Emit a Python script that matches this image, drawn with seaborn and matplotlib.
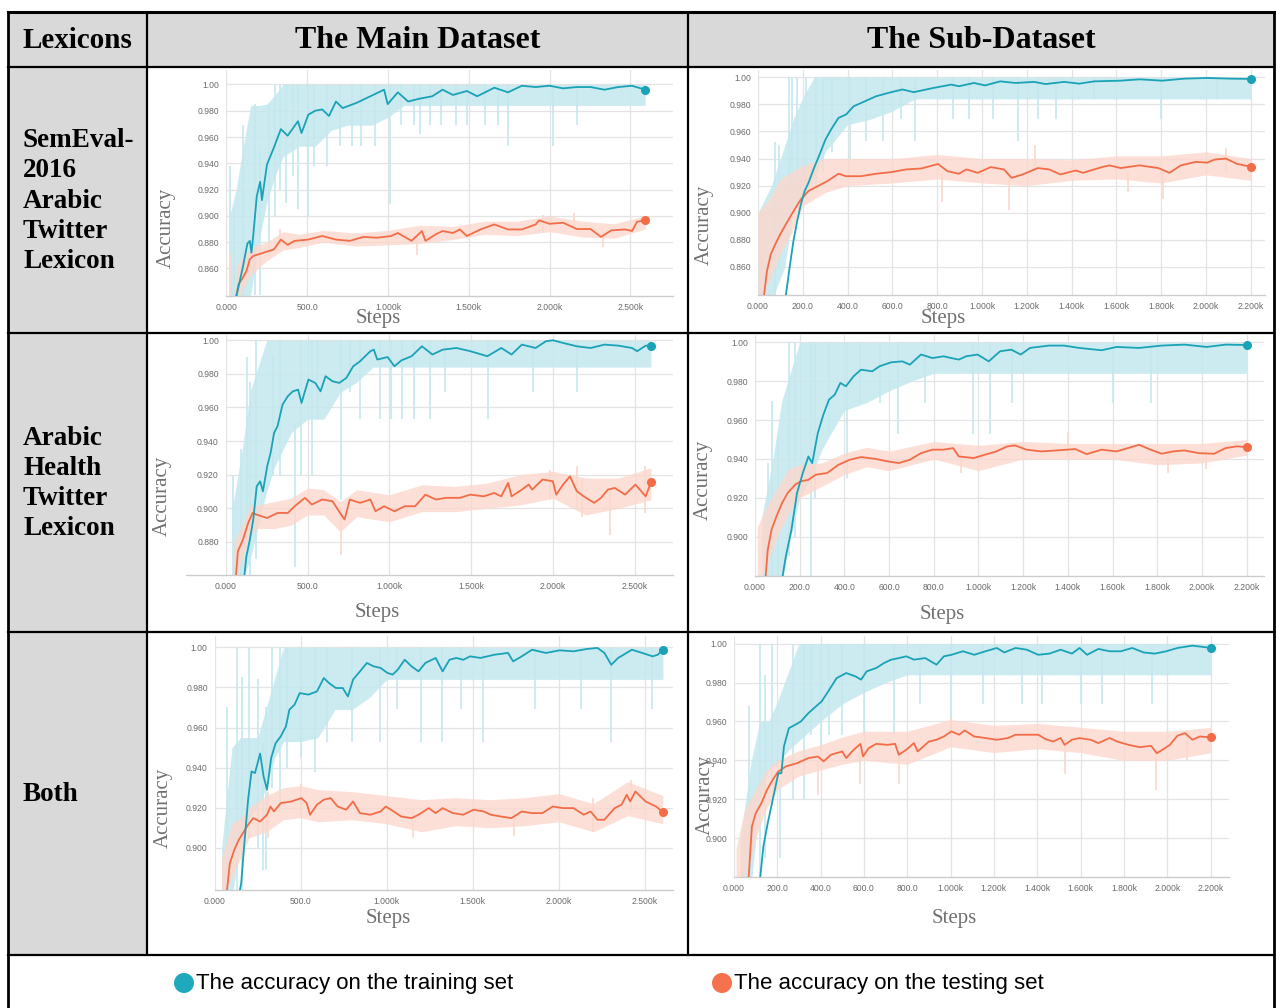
import matplotlib
matplotlib.use("Agg")
import matplotlib.pyplot as plt
import matplotlib.font_manager as fm
from matplotlib.patches import Rectangle, Circle
import seaborn as sns
import pandas as pd

# ---------------------------------------------------------------- texts
col_headers = ["Lexicons", "The Main Dataset", "The Sub-Dataset"]
row_labels = ["SemEval-\n2016\nArabic\nTwitter\nLexicon",
              "Arabic\nHealth\nTwitter\nLexicon",
              "Both"]
legend_labels = ["The accuracy on the training set", "The accuracy on the testing set"]
x_label = "Steps"
y_label = "Accuracy"

# ================================================================ DATA
# ---------- SemEval lexicon / main dataset
sem_main_train_steps = [55, 100, 130, 145, 155, 166, 188, 209, 220, 251, 294, 337, 379, 443, 465, 507, 550, 593, 635, 678, 720, 806, 891, 976, 998, 1061, 1125, 1189, 1274, 1338, 1402, 1488, 1552, 1658, 1743, 1829, 1914, 2000, 2084, 2169, 2254, 2340, 2425, 2510, 2592]
sem_main_train_acc = [0.835, 0.860, 0.879, 0.881, 0.872, 0.885, 0.915, 0.926, 0.912, 0.939, 0.952, 0.966, 0.961, 0.972, 0.963, 0.977, 0.980, 0.981, 0.976, 0.987, 0.982, 0.986, 0.991, 0.996, 0.985, 0.994, 0.987, 0.989, 0.991, 0.996, 0.992, 0.995, 0.991, 0.9975, 0.994, 0.999, 0.998, 0.999, 0.997, 0.998, 0.998, 0.996, 0.998, 0.999, 0.996]
sem_main_test_steps = [55, 75, 102, 124, 145, 166, 230, 294, 337, 379, 422, 507, 593, 678, 763, 848, 933, 1019, 1061, 1146, 1210, 1232, 1296, 1338, 1402, 1445, 1488, 1573, 1658, 1743, 1829, 1914, 1935, 2000, 2084, 2169, 2254, 2318, 2382, 2468, 2510, 2542, 2592]
sem_main_test_acc = [0.835, 0.848, 0.853, 0.858, 0.867, 0.8695, 0.872, 0.8745, 0.882, 0.878, 0.881, 0.882, 0.8847, 0.882, 0.881, 0.884, 0.8834, 0.8847, 0.887, 0.881, 0.8885, 0.881, 0.886, 0.8885, 0.887, 0.8897, 0.8847, 0.8897, 0.8935, 0.8897, 0.8897, 0.8935, 0.8966, 0.894, 0.8948, 0.890, 0.890, 0.884, 0.889, 0.8897, 0.8885, 0.8956, 0.8966]
sem_main_trainraw_steps = [20, 60, 100, 150, 200, 250, 300, 350, 450, 550, 650, 750, 900, 1000, 1100, 1300, 1500, 1700, 1800, 2000, 2200, 2400, 2592]
sem_main_trainraw_lo = [0.835, 0.835, 0.835, 0.84, 0.88, 0.91, 0.93, 0.945, 0.953, 0.953, 0.965, 0.969, 0.969, 0.975, 0.984, 0.984, 0.984, 0.984, 0.984, 0.984, 0.984, 0.984, 0.984]
sem_main_trainraw_hi = [0.90, 0.92, 0.95, 0.984, 0.984, 0.985, 0.992, 1.0, 1.0, 1.0, 1.0, 1.0, 1.0, 1.0, 1.0, 1.0, 1.0, 1.0, 1.0, 1.0, 1.0, 1.0, 1.0]
sem_main_trainspike_steps = [20, 45, 105, 180, 210, 265, 300, 330, 370, 410, 445, 505, 540, 620, 700, 780, 830, 920, 1010, 1080, 1160, 1200, 1260, 1330, 1420, 1490, 1600, 1680, 1740, 2020, 2170]
sem_main_trainspike_lo = [0.835, 0.835, 0.84, 0.84, 0.84, 0.87, 0.90, 0.92, 0.91, 0.93, 0.905, 0.90, 0.938, 0.938, 0.953, 0.953, 0.953, 0.953, 0.909, 0.969, 0.969, 0.962, 0.969, 0.969, 0.969, 0.969, 0.969, 0.969, 0.953, 0.953, 0.969]
sem_main_trainspike_hi = [0.938, 0.905, 0.969, 0.985, 0.95, 0.985, 1.0, 1.0, 1.0, 1.0, 1.0, 1.0, 1.0, 1.0, 1.0, 1.0, 1.0, 1.0, 1.0, 1.0, 1.0, 1.0, 1.0, 1.0, 1.0, 1.0, 1.0, 1.0, 1.0, 1.0, 1.0]
sem_main_testraw_steps = [60, 150, 250, 350, 450, 600, 800, 1000, 1200, 1400, 1600, 1800, 2000, 2200, 2400, 2592]
sem_main_testraw_lo = [0.835, 0.855, 0.866, 0.874, 0.876, 0.880, 0.877, 0.878, 0.879, 0.882, 0.886, 0.885, 0.888, 0.884, 0.883, 0.890]
sem_main_testraw_hi = [0.862, 0.876, 0.880, 0.888, 0.886, 0.889, 0.887, 0.889, 0.893, 0.892, 0.896, 0.896, 0.900, 0.896, 0.894, 0.900]
sem_main_testspike_steps = [30, 330, 1180, 1960, 2150, 2330]
sem_main_testspike_lo = [0.835, 0.878, 0.870, 0.888, 0.890, 0.876]
sem_main_testspike_hi = [0.872, 0.890, 0.885, 0.901, 0.902, 0.888]

# ---------- SemEval lexicon / sub-dataset
sem_sub_train_steps = [121, 141, 158, 175, 191, 208, 225, 250, 275, 301, 326, 359, 393, 427, 477, 527, 594, 645, 695, 779, 863, 897, 964, 1014, 1081, 1149, 1233, 1283, 1367, 1434, 1501, 1619, 1703, 1804, 1904, 2005, 2106, 2200]
sem_sub_train_acc = [0.835, 0.8595, 0.879, 0.894, 0.906, 0.916, 0.922, 0.933, 0.943, 0.954, 0.9614, 0.970, 0.9725, 0.9786, 0.9823, 0.986, 0.989, 0.991, 0.989, 0.992, 0.9946, 0.9934, 0.9958, 0.994, 0.997, 0.9958, 0.9966, 0.995, 0.9966, 0.9953, 0.997, 0.9975, 0.9985, 0.9975, 0.999, 0.9995, 0.999, 0.9988]
sem_sub_test_steps = [24, 40, 57, 77, 99, 124, 158, 191, 225, 259, 309, 359, 393, 460, 527, 594, 662, 729, 804, 846, 897, 930, 981, 1039, 1098, 1132, 1182, 1249, 1300, 1350, 1418, 1451, 1535, 1569, 1619, 1703, 1787, 1837, 1888, 1955, 2005, 2039, 2089, 2140, 2200]
sem_sub_test_acc = [0.835, 0.857, 0.8693, 0.8767, 0.884, 0.8914, 0.901, 0.9098, 0.916, 0.919, 0.9233, 0.9288, 0.927, 0.927, 0.9288, 0.930, 0.932, 0.9327, 0.936, 0.9307, 0.9288, 0.932, 0.9295, 0.9337, 0.932, 0.9258, 0.9283, 0.933, 0.932, 0.9283, 0.9312, 0.9295, 0.9337, 0.935, 0.933, 0.935, 0.933, 0.9295, 0.935, 0.9376, 0.937, 0.9393, 0.940, 0.936, 0.934]
sem_sub_trainraw_steps = [0, 60, 120, 160, 200, 250, 300, 350, 400, 500, 600, 700, 800, 1000, 1200, 1400, 1600, 1800, 2000, 2200]
sem_sub_trainraw_lo = [0.835, 0.835, 0.86, 0.905, 0.91, 0.925, 0.945, 0.955, 0.965, 0.969, 0.975, 0.984, 0.984, 0.984, 0.984, 0.984, 0.984, 0.984, 0.984, 0.984]
sem_sub_trainraw_hi = [0.90, 0.92, 0.95, 0.97, 0.985, 1.0, 1.0, 1.0, 1.0, 1.0, 1.0, 1.0, 1.0, 1.0, 1.0, 1.0, 1.0, 1.0, 1.0, 1.0]
sem_sub_trainspike_steps = [75, 95, 140, 150, 175, 215, 260, 290, 330, 410, 480, 560, 640, 700, 870, 940, 1050, 1160, 1250, 1330, 1500, 1800, 2050]
sem_sub_trainspike_lo = [0.835, 0.86, 0.90, 0.91, 0.905, 0.91, 0.92, 0.93, 0.945, 0.94, 0.953, 0.953, 0.969, 0.953, 0.969, 0.969, 0.969, 0.953, 0.969, 0.969, 0.984, 0.969, 0.984]
sem_sub_trainspike_hi = [0.952, 0.95, 1.0, 1.0, 1.0, 1.0, 1.0, 1.0, 1.0, 1.0, 1.0, 1.0, 1.0, 1.0, 1.0, 1.0, 1.0, 1.0, 1.0, 1.0, 1.0, 1.0, 1.0]
sem_sub_testraw_steps = [0, 50, 100, 150, 200, 300, 400, 600, 800, 1000, 1200, 1400, 1600, 1800, 2000, 2200]
sem_sub_testraw_lo = [0.835, 0.85, 0.87, 0.885, 0.905, 0.915, 0.92, 0.922, 0.925, 0.922, 0.92, 0.924, 0.925, 0.922, 0.928, 0.924]
sem_sub_testraw_hi = [0.90, 0.91, 0.925, 0.93, 0.935, 0.940, 0.940, 0.940, 0.943, 0.940, 0.940, 0.939, 0.942, 0.942, 0.945, 0.940]
sem_sub_testspike_steps = [20, 820, 1120, 1235, 1650, 1810, 2090]
sem_sub_testspike_lo = [0.86, 0.908, 0.902, 0.93, 0.915, 0.91, 0.93]
sem_sub_testspike_hi = [0.90, 0.93, 0.93, 0.95, 0.93, 0.93, 0.948]

# ---------- Health lexicon / main dataset
health_main_train_steps = [109, 126, 147, 168, 189, 210, 227, 253, 274, 295, 316, 347, 379, 410, 442, 463, 505, 547, 579, 610, 652, 694, 737, 779, 821, 884, 905, 926, 989, 1031, 1073, 1136, 1199, 1263, 1326, 1410, 1494, 1599, 1684, 1747, 1810, 1894, 1957, 1999, 2062, 2146, 2231, 2315, 2399, 2483, 2515, 2567, 2599]
health_main_train_acc = [0.856, 0.8714, 0.8813, 0.8933, 0.9131, 0.916, 0.9101, 0.925, 0.933, 0.9448, 0.9488, 0.9617, 0.9667, 0.9696, 0.9706, 0.9627, 0.9766, 0.9746, 0.9696, 0.9786, 0.9756, 0.9746, 0.9776, 0.9845, 0.9875, 0.9935, 0.9944, 0.9885, 0.990, 0.9845, 0.988, 0.9905, 0.9964, 0.9915, 0.9944, 0.9954, 0.9935, 0.9905, 0.9954, 0.9915, 0.9974, 0.9954, 0.9994, 1.000, 0.9984, 0.9964, 0.9954, 0.9974, 0.9968, 0.9954, 0.9935, 0.9968, 0.9968]
health_main_test_steps = [59, 74, 105, 137, 164, 189, 253, 316, 379, 421, 484, 526, 589, 652, 705, 726, 758, 821, 884, 915, 968, 1031, 1094, 1157, 1220, 1284, 1347, 1431, 1494, 1578, 1641, 1684, 1726, 1747, 1810, 1852, 1873, 1936, 1999, 2020, 2062, 2104, 2146, 2188, 2252, 2294, 2336, 2378, 2441, 2504, 2567, 2599]
health_main_test_acc = [0.856, 0.8744, 0.8813, 0.8913, 0.8972, 0.8962, 0.8942, 0.8972, 0.8972, 0.9012, 0.9062, 0.9022, 0.9052, 0.9042, 0.8962, 0.8933, 0.9052, 0.9032, 0.9052, 0.8982, 0.9012, 0.8982, 0.9012, 0.9012, 0.9081, 0.9052, 0.9062, 0.9062, 0.9081, 0.9071, 0.9091, 0.9071, 0.9151, 0.9071, 0.9111, 0.9141, 0.9111, 0.9171, 0.9161, 0.9081, 0.9141, 0.919, 0.9101, 0.9071, 0.9032, 0.9062, 0.9111, 0.9121, 0.9081, 0.9141, 0.9071, 0.9155]
health_main_trainraw_steps = [40, 100, 150, 200, 250, 300, 350, 400, 500, 600, 700, 800, 900, 1000, 1200, 1400, 1600, 1800, 2000, 2200, 2400, 2599]
health_main_trainraw_lo = [0.856, 0.856, 0.870, 0.89, 0.91, 0.925, 0.935, 0.945, 0.953, 0.953, 0.969, 0.975, 0.984, 0.984, 0.984, 0.984, 0.984, 0.984, 0.984, 0.984, 0.984, 0.984]
health_main_trainraw_hi = [0.90, 0.935, 0.97, 0.985, 1.0, 1.0, 1.0, 1.0, 1.0, 1.0, 1.0, 1.0, 1.0, 1.0, 1.0, 1.0, 1.0, 1.0, 1.0, 1.0, 1.0, 1.0]
health_main_trainspike_steps = [45, 95, 130, 150, 185, 290, 330, 420, 460, 525, 560, 705, 760, 820, 940, 1010, 1080, 1150, 1250, 1340, 1600, 1880, 2150]
health_main_trainspike_lo = [0.856, 0.856, 0.88, 0.856, 0.87, 0.92, 0.92, 0.865, 0.92, 0.92, 0.953, 0.905, 0.969, 0.953, 0.953, 0.953, 0.953, 0.953, 0.953, 0.969, 0.953, 0.969, 0.969]
health_main_trainspike_hi = [0.92, 0.935, 0.99, 0.975, 1.0, 0.99, 1.0, 0.95, 1.0, 1.0, 1.0, 1.0, 1.0, 1.0, 1.0, 1.0, 1.0, 1.0, 1.0, 1.0, 1.0, 1.0, 1.0]
health_main_testraw_steps = [50, 100, 150, 200, 300, 400, 500, 600, 700, 800, 1000, 1200, 1400, 1600, 1800, 2000, 2200, 2400, 2599]
health_main_testraw_lo = [0.856, 0.870, 0.885, 0.888, 0.888, 0.890, 0.896, 0.896, 0.886, 0.895, 0.892, 0.898, 0.898, 0.900, 0.902, 0.906, 0.896, 0.900, 0.905]
health_main_testraw_hi = [0.880, 0.890, 0.902, 0.902, 0.904, 0.906, 0.912, 0.911, 0.904, 0.911, 0.908, 0.914, 0.913, 0.915, 0.920, 0.922, 0.918, 0.918, 0.924]
health_main_testspike_steps = [705, 1980, 2150, 2180, 2350, 2560]
health_main_testspike_lo = [0.872, 0.905, 0.900, 0.895, 0.884, 0.897]
health_main_testspike_hi = [0.900, 0.923, 0.925, 0.918, 0.910, 0.925]

# ---------- Health lexicon / sub-dataset
health_sub_train_steps = [118, 138, 163, 188, 214, 239, 256, 281, 306, 331, 357, 382, 407, 441, 474, 525, 558, 609, 659, 693, 743, 794, 844, 878, 912, 945, 996, 1046, 1097, 1147, 1189, 1231, 1315, 1383, 1450, 1551, 1618, 1719, 1820, 1921, 2022, 2106, 2200]
health_sub_train_acc = [0.876, 0.8899, 0.9036, 0.9225, 0.9328, 0.9413, 0.9379, 0.9533, 0.9628, 0.9705, 0.9731, 0.9791, 0.9774, 0.9825, 0.9859, 0.9851, 0.9877, 0.9897, 0.9902, 0.9885, 0.9937, 0.9919, 0.9928, 0.9919, 0.9911, 0.9928, 0.9937, 0.9902, 0.9954, 0.9962, 0.9937, 0.9971, 0.9983, 0.9983, 0.9971, 0.9959, 0.9976, 0.9971, 0.9983, 0.9988, 0.9976, 0.9988, 0.9986]
health_sub_test_steps = [45, 57, 74, 96, 121, 146, 180, 205, 239, 272, 323, 373, 424, 474, 542, 592, 643, 693, 743, 794, 844, 887, 912, 979, 1029, 1080, 1130, 1164, 1214, 1282, 1349, 1433, 1484, 1551, 1618, 1669, 1719, 1770, 1820, 1871, 1921, 1988, 2055, 2106, 2156, 2200]
health_sub_test_acc = [0.876, 0.8933, 0.9036, 0.9105, 0.9173, 0.9225, 0.9268, 0.9285, 0.9293, 0.9319, 0.9328, 0.937, 0.9396, 0.941, 0.940, 0.9388, 0.9379, 0.9396, 0.943, 0.9448, 0.9448, 0.9456, 0.9413, 0.9405, 0.9422, 0.9439, 0.9465, 0.947, 0.9448, 0.9439, 0.9444, 0.9451, 0.9425, 0.9448, 0.9439, 0.9456, 0.9473, 0.9448, 0.9427, 0.9439, 0.9444, 0.943, 0.9427, 0.9456, 0.9465, 0.9461]
health_sub_trainraw_steps = [30, 80, 120, 160, 200, 250, 300, 350, 400, 500, 600, 700, 800, 1000, 1200, 1400, 1600, 1800, 2000, 2200]
health_sub_trainraw_lo = [0.876, 0.876, 0.876, 0.90, 0.92, 0.93, 0.945, 0.955, 0.965, 0.969, 0.975, 0.98, 0.984, 0.984, 0.984, 0.984, 0.984, 0.984, 0.984, 0.984]
health_sub_trainraw_hi = [0.91, 0.94, 0.97, 0.985, 1.0, 1.0, 1.0, 1.0, 1.0, 1.0, 1.0, 1.0, 1.0, 1.0, 1.0, 1.0, 1.0, 1.0, 1.0, 1.0]
health_sub_trainspike_steps = [60, 75, 105, 150, 180, 250, 270, 330, 410, 470, 560, 640, 760, 975, 1050, 1150, 1600, 1770]
health_sub_trainspike_lo = [0.876, 0.876, 0.876, 0.89, 0.90, 0.876, 0.92, 0.953, 0.93, 0.969, 0.969, 0.953, 0.969, 0.953, 0.953, 0.969, 0.969, 0.969]
health_sub_trainspike_hi = [0.938, 0.97, 0.953, 1.0, 1.0, 1.0, 1.0, 1.0, 1.0, 1.0, 1.0, 1.0, 1.0, 1.0, 1.0, 1.0, 1.0, 1.0]
health_sub_testraw_steps = [10, 50, 100, 150, 200, 300, 400, 500, 600, 800, 1000, 1200, 1400, 1600, 1800, 2000, 2200]
health_sub_testraw_lo = [0.876, 0.885, 0.900, 0.912, 0.920, 0.926, 0.932, 0.936, 0.934, 0.940, 0.934, 0.940, 0.940, 0.940, 0.937, 0.938, 0.942]
health_sub_testraw_hi = [0.905, 0.915, 0.925, 0.935, 0.937, 0.938, 0.943, 0.946, 0.944, 0.949, 0.947, 0.949, 0.948, 0.948, 0.948, 0.948, 0.950]
health_sub_testspike_steps = [920, 1400, 1850, 2020]
health_sub_testspike_lo = [0.933, 0.940, 0.933, 0.935]
health_sub_testspike_hi = [0.946, 0.954, 0.945, 0.945]

# ---------- Both lexicons / main dataset
both_main_train_steps = [140, 154, 174, 194, 214, 234, 264, 284, 304, 328, 354, 384, 414, 434, 464, 494, 544, 594, 634, 664, 704, 744, 774, 804, 844, 884, 924, 964, 1004, 1034, 1064, 1104, 1144, 1184, 1224, 1284, 1324, 1364, 1404, 1444, 1484, 1544, 1624, 1704, 1734, 1784, 1844, 1924, 2004, 2084, 2164, 2224, 2264, 2304, 2344, 2424, 2484, 2544, 2574, 2604]
both_main_train_acc = [0.876, 0.8824, 0.904, 0.924, 0.9381, 0.9373, 0.947, 0.9356, 0.929, 0.9448, 0.9522, 0.9556, 0.9606, 0.9689, 0.9714, 0.9772, 0.9764, 0.978, 0.9847, 0.9822, 0.9797, 0.9797, 0.9755, 0.9839, 0.988, 0.9922, 0.9905, 0.9897, 0.9872, 0.9864, 0.9889, 0.9938, 0.9905, 0.988, 0.9922, 0.9947, 0.988, 0.9938, 0.9947, 0.9938, 0.9955, 0.9947, 0.9963, 0.9972, 0.993, 0.9955, 0.9988, 0.9972, 0.9985, 0.998, 0.9992, 0.9997, 0.9972, 0.9913, 0.9947, 0.9988, 0.9972, 0.9955, 0.9963, 0.9988]
both_main_test_steps = [68, 88, 114, 140, 164, 194, 224, 264, 304, 324, 344, 384, 444, 504, 534, 554, 594, 634, 674, 714, 764, 804, 844, 904, 964, 994, 1024, 1084, 1144, 1184, 1244, 1284, 1324, 1384, 1444, 1504, 1564, 1604, 1664, 1724, 1784, 1844, 1904, 1964, 2024, 2084, 2144, 2184, 2224, 2264, 2324, 2364, 2394, 2414, 2444, 2504, 2564, 2604]
both_main_test_acc = [0.876, 0.8923, 0.899, 0.904, 0.9073, 0.9115, 0.9148, 0.9131, 0.9165, 0.9206, 0.9181, 0.9223, 0.9231, 0.9248, 0.9223, 0.9165, 0.9215, 0.924, 0.9248, 0.9206, 0.919, 0.9231, 0.9173, 0.9165, 0.9181, 0.9206, 0.919, 0.9156, 0.9148, 0.9165, 0.9198, 0.9173, 0.9198, 0.9173, 0.9165, 0.919, 0.9181, 0.9165, 0.9156, 0.9148, 0.9181, 0.9173, 0.9173, 0.9206, 0.9198, 0.9198, 0.9165, 0.9181, 0.914, 0.914, 0.9198, 0.9215, 0.9265, 0.9231, 0.9281, 0.9231, 0.9206, 0.9178]
both_main_trainraw_steps = [40, 100, 150, 200, 250, 300, 350, 400, 500, 600, 700, 800, 900, 1000, 1200, 1400, 1600, 1800, 2000, 2200, 2400, 2604]
both_main_trainraw_lo = [0.876, 0.876, 0.90, 0.915, 0.92, 0.93, 0.945, 0.953, 0.953, 0.955, 0.969, 0.969, 0.975, 0.984, 0.984, 0.984, 0.984, 0.984, 0.984, 0.984, 0.984, 0.984]
both_main_trainraw_hi = [0.90, 0.95, 0.955, 0.955, 0.955, 0.97, 0.985, 1.0, 1.0, 1.0, 1.0, 1.0, 1.0, 1.0, 1.0, 1.0, 1.0, 1.0, 1.0, 1.0, 1.0, 1.0]
both_main_trainspike_steps = [70, 130, 160, 200, 250, 280, 300, 335, 380, 420, 500, 580, 650, 800, 960, 1060, 1200, 1320, 1430, 1560, 1860, 2130, 2300, 2540]
both_main_trainspike_lo = [0.876, 0.876, 0.876, 0.905, 0.90, 0.889, 0.889, 0.93, 0.92, 0.94, 0.945, 0.938, 0.953, 0.953, 0.953, 0.969, 0.953, 0.953, 0.969, 0.953, 0.969, 0.969, 0.953, 0.969]
both_main_trainspike_hi = [0.97, 1.0, 0.985, 1.0, 0.984, 0.953, 0.97, 1.0, 1.0, 1.0, 1.0, 1.0, 1.0, 1.0, 1.0, 1.0, 1.0, 1.0, 1.0, 1.0, 1.0, 1.0, 1.0, 1.0]
both_main_testraw_steps = [40, 100, 150, 200, 300, 400, 500, 600, 800, 1000, 1200, 1400, 1600, 1800, 2000, 2200, 2400, 2604]
both_main_testraw_lo = [0.876, 0.885, 0.895, 0.905, 0.908, 0.914, 0.915, 0.913, 0.914, 0.912, 0.908, 0.911, 0.910, 0.911, 0.913, 0.908, 0.916, 0.912]
both_main_testraw_hi = [0.895, 0.912, 0.915, 0.920, 0.926, 0.930, 0.931, 0.929, 0.928, 0.926, 0.924, 0.925, 0.924, 0.925, 0.927, 0.922, 0.933, 0.926]
both_main_testspike_steps = [310, 500, 1150, 1740, 2200, 2420]
both_main_testspike_lo = [0.905, 0.915, 0.905, 0.906, 0.908, 0.918]
both_main_testspike_hi = [0.928, 0.932, 0.920, 0.920, 0.925, 0.934]

# ---------- Both lexicons / sub-dataset
both_sub_train_steps = [118, 136, 156, 179, 205, 219, 231, 254, 283, 309, 344, 379, 405, 440, 474, 518, 561, 587, 613, 657, 692, 726, 761, 796, 831, 883, 935, 969, 1004, 1057, 1109, 1161, 1213, 1248, 1300, 1352, 1404, 1456, 1508, 1560, 1595, 1630, 1682, 1734, 1786, 1838, 1891, 1943, 1995, 2047, 2116, 2168, 2200]
both_sub_train_acc = [0.876, 0.8957, 0.9077, 0.9197, 0.9334, 0.9334, 0.9472, 0.9566, 0.9583, 0.96, 0.9643, 0.9678, 0.9703, 0.9763, 0.9823, 0.9849, 0.9832, 0.9815, 0.9858, 0.9875, 0.99, 0.9918, 0.9926, 0.9935, 0.9918, 0.9926, 0.9892, 0.9935, 0.9943, 0.9961, 0.9943, 0.9961, 0.9978, 0.9955, 0.9978, 0.9969, 0.9943, 0.9949, 0.9969, 0.9949, 0.9978, 0.9943, 0.9973, 0.9961, 0.9961, 0.9978, 0.9955, 0.9949, 0.9961, 0.9978, 0.999, 0.9983, 0.9978]
both_sub_test_steps = [66, 83, 101, 127, 153, 179, 205, 240, 292, 344, 388, 414, 448, 500, 518, 553, 584, 596, 622, 657, 709, 744, 761, 796, 831, 848, 900, 935, 969, 1004, 1039, 1065, 1109, 1161, 1213, 1265, 1300, 1352, 1404, 1439, 1473, 1508, 1526, 1560, 1595, 1647, 1682, 1734, 1769, 1821, 1873, 1925, 1952, 1978, 2012, 2047, 2082, 2116, 2151, 2200]
both_sub_test_acc = [0.876, 0.906, 0.9129, 0.918, 0.9249, 0.93, 0.9343, 0.9369, 0.9386, 0.9412, 0.942, 0.9395, 0.9429, 0.9446, 0.9412, 0.9455, 0.9485, 0.942, 0.9463, 0.9485, 0.948, 0.9485, 0.9429, 0.9455, 0.9489, 0.9446, 0.9497, 0.9506, 0.9523, 0.9549, 0.9532, 0.9554, 0.9523, 0.9515, 0.9506, 0.9515, 0.9532, 0.9532, 0.9532, 0.9509, 0.9497, 0.9515, 0.948, 0.9506, 0.9515, 0.9506, 0.9489, 0.9515, 0.9497, 0.948, 0.9468, 0.9475, 0.9437, 0.9455, 0.948, 0.9527, 0.954, 0.9506, 0.9523, 0.9518]
both_sub_trainraw_steps = [30, 80, 120, 160, 200, 250, 300, 350, 400, 500, 600, 700, 800, 1000, 1200, 1400, 1600, 1800, 2000, 2200]
both_sub_trainraw_lo = [0.876, 0.876, 0.92, 0.935, 0.938, 0.945, 0.95, 0.955, 0.96, 0.969, 0.975, 0.98, 0.984, 0.984, 0.984, 0.984, 0.984, 0.984, 0.984, 0.984]
both_sub_trainraw_hi = [0.90, 0.94, 0.96, 0.96, 0.97, 0.985, 1.0, 1.0, 1.0, 1.0, 1.0, 1.0, 1.0, 1.0, 1.0, 1.0, 1.0, 1.0, 1.0, 1.0]
both_sub_trainspike_steps = [70, 120, 145, 175, 215, 275, 325, 355, 400, 440, 500, 600, 740, 860, 1000, 1150, 1330, 1420, 1600, 1700, 1930]
both_sub_trainspike_lo = [0.876, 0.876, 0.89, 0.93, 0.89, 0.92, 0.92, 0.953, 0.945, 0.953, 0.953, 0.953, 0.953, 0.969, 0.953, 0.969, 0.969, 0.969, 0.969, 0.969, 0.969]
both_sub_trainspike_hi = [0.968, 1.0, 0.984, 1.0, 0.93, 1.0, 1.0, 1.0, 1.0, 1.0, 1.0, 1.0, 1.0, 1.0, 1.0, 1.0, 1.0, 1.0, 1.0, 1.0, 1.0]
both_sub_testraw_steps = [10, 50, 100, 150, 200, 300, 400, 500, 600, 800, 1000, 1200, 1400, 1600, 1800, 2000, 2200]
both_sub_testraw_lo = [0.876, 0.880, 0.900, 0.915, 0.925, 0.932, 0.935, 0.938, 0.940, 0.938, 0.947, 0.944, 0.946, 0.944, 0.940, 0.940, 0.944]
both_sub_testraw_hi = [0.895, 0.915, 0.925, 0.935, 0.940, 0.945, 0.948, 0.952, 0.955, 0.955, 0.961, 0.958, 0.959, 0.957, 0.955, 0.955, 0.957]
both_sub_testspike_steps = [390, 580, 760, 1000, 1530, 1950, 2090]
both_sub_testspike_lo = [0.922, 0.928, 0.928, 0.955, 0.933, 0.925, 0.940]
both_sub_testspike_hi = [0.940, 0.945, 0.945, 0.962, 0.950, 0.945, 0.955]

# ================================================================ STYLE
TEAL = "#1aa2b6"
TEAL_LIGHT = "#c4e8ef"
ORANGE = "#f26d47"
ORANGE_LIGHT = "#fcd7cc"
GRID = "#e3e3e3"
TICK_COLOR = "#6a6a6a"
LABEL_COLOR = "#707070"
GRAY_FILL = "#d9d9d9"

sns.set_style("white")
plt.rcParams["font.family"] = ["DejaVu Sans"]
plt.rcParams["text.color"] = "black"


def has_font(name):
    try:
        fm.findfont(fm.FontProperties(family=name), fallback_to_default=False)
        return True
    except Exception:
        return False


SERIF = "Liberation Serif" if has_font("Liberation Serif") else "DejaVu Serif"
SANS = "Liberation Sans" if has_font("Liberation Sans") else "DejaVu Sans"
if has_font("Liberation Sans Narrow"):
    LEG_FONT, LEG_SIZE = "Liberation Sans Narrow", 19
else:
    LEG_FONT, LEG_SIZE = SANS, 16

W, H = 1277, 1008
fig = plt.figure(figsize=(W / 100, H / 100), dpi=100)
bg = fig.add_axes([0, 0, 1, 1], zorder=0)
bg.set_xlim(0, W)
bg.set_ylim(H, 0)
bg.axis("off")

# ---- table geometry (pixels)
TL, TR = 8, 1274
C1, C2 = 147, 688
R0, R1, R2, R3, R4 = 12, 67, 333, 632, 955

bg.add_patch(Rectangle((TL, R0), TR - TL, R1 - R0, color=GRAY_FILL, lw=0))
bg.add_patch(Rectangle((TL, R1), C1 - TL, R4 - R1, color=GRAY_FILL, lw=0))
LW = 1.6
for y in (R1, R2, R3, R4):
    bg.plot([TL, TR], [y, y], color="black", lw=LW, solid_capstyle="projecting")
bg.plot([TL, TR], [R0, R0], color="black", lw=2.2, solid_capstyle="projecting")
for x in (C1, C2):
    bg.plot([x, x], [R0, R4], color="black", lw=LW)
for x in (TL, TR):
    bg.plot([x, x], [R0, H], color="black", lw=2.0)

bg.text((TL + C1) / 2, (R0 + R1) / 2 + 1, col_headers[0], family=SERIF, weight="bold",
        fontsize=21, ha="center", va="center", color="black")
bg.text((C1 + C2) / 2, (R0 + R1) / 2 + 1, col_headers[1], family=SERIF, weight="bold",
        fontsize=23, ha="center", va="center", color="black")
bg.text((C2 + TR) / 2, (R0 + R1) / 2 + 1, col_headers[2], family=SERIF, weight="bold",
        fontsize=23, ha="center", va="center", color="black")
for lab, (ya, yb) in zip(row_labels, [(R1, R2), (R2, R3), (R3, R4)]):
    bg.text(23, (ya + yb) / 2 + 1, lab, family=SERIF, weight="bold", fontsize=19.5,
            ha="left", va="center", linespacing=1.28, color="black")

# legend row
bg.add_patch(Circle((184, 983), 10, color="#20a8bc", lw=0))
bg.add_patch(Circle((722, 983), 10, color="#f4734e", lw=0))
bg.text(196, 983, legend_labels[0], family=LEG_FONT, fontsize=LEG_SIZE, ha="left",
        va="center", color="black")
bg.text(734, 983, legend_labels[1], family=LEG_FONT, fontsize=LEG_SIZE, ha="left",
        va="center", color="black")


def fmt_step(v):
    if v == 0:
        return "0.000"
    if v < 1000:
        return f"{v:.1f}"
    return f"{v / 1000:.3f}k"


def fmt_acc(v):
    return "1.00" if abs(v - 1.0) < 1e-9 else f"{v:.3f}"


def panel(prefix, box, xlim, ylim, xstep, ymin_tick, acc_xy, steps_xy, left_ext=0.0):
    g = globals()
    left, right, top, bottom = box
    ax = fig.add_axes([left / W, 1 - bottom / H, (right - left) / W, (bottom - top) / H], zorder=2)
    ax.set_facecolor("none")

    # raw (un-smoothed) training accuracy: band + spikes
    ax.fill_between(g[prefix + "_trainraw_steps"], g[prefix + "_trainraw_lo"],
                    g[prefix + "_trainraw_hi"], color=TEAL_LIGHT, lw=0, alpha=0.85, zorder=1)
    ax.vlines(g[prefix + "_trainspike_steps"], g[prefix + "_trainspike_lo"],
              g[prefix + "_trainspike_hi"], color=TEAL_LIGHT, lw=1.2, zorder=1)
    # raw testing accuracy
    ax.fill_between(g[prefix + "_testraw_steps"], g[prefix + "_testraw_lo"],
                    g[prefix + "_testraw_hi"], color=ORANGE_LIGHT, lw=0, alpha=0.8, zorder=2)
    ax.vlines(g[prefix + "_testspike_steps"], g[prefix + "_testspike_lo"],
              g[prefix + "_testspike_hi"], color=ORANGE_LIGHT, lw=1.2, zorder=2)

    df_te = pd.DataFrame({"step": g[prefix + "_test_steps"], "acc": g[prefix + "_test_acc"]})
    df_tr = pd.DataFrame({"step": g[prefix + "_train_steps"], "acc": g[prefix + "_train_acc"]})
    sns.lineplot(data=df_te, x="step", y="acc", ax=ax, color=ORANGE, lw=1.3,
                 estimator=None, sort=False, legend=False, zorder=3)
    sns.lineplot(data=df_tr, x="step", y="acc", ax=ax, color=TEAL, lw=1.3,
                 estimator=None, sort=False, legend=False, zorder=4)
    ax.plot(df_te["step"].iloc[-1], df_te["acc"].iloc[-1], "o", ms=5.5, color=ORANGE, zorder=5)
    ax.plot(df_tr["step"].iloc[-1], df_tr["acc"].iloc[-1], "o", ms=5.5, color=TEAL, zorder=5)

    ax.set_xlim(*xlim)
    ax.set_ylim(*ylim)
    xt = list(range(0, int(xlim[1]) + 1, xstep))
    ax.set_xticks(xt)
    ax.set_xticklabels([fmt_step(v) for v in xt])
    yt = [round(ymin_tick + 0.02 * i, 3) for i in range(int(round((1.0 - ymin_tick) / 0.02)) + 1)]
    ax.set_yticks(yt)
    ax.set_yticklabels([fmt_acc(v) for v in yt])
    ax.tick_params(length=0, labelsize=6.2, labelcolor=TICK_COLOR, pad=5)
    for t in ax.get_xticklabels() + ax.get_yticklabels():
        t.set_family(SANS)
    ax.grid(True, color=GRID, lw=0.9)
    ax.set_axisbelow(True)
    for s in ("top", "right", "left"):
        ax.spines[s].set_visible(False)
    ax.spines["bottom"].set_color("#cccccc")
    ax.spines["bottom"].set_linewidth(1.0)
    if left_ext:
        ax.plot([left_ext, 0], [0, 0], transform=ax.transAxes, color="#cccccc", lw=1.0,
                clip_on=False)
    ax.set_xlabel("")
    ax.set_ylabel("")

    bg.text(acc_xy[0], acc_xy[1], y_label, family=SERIF, fontsize=15, color=LABEL_COLOR,
            rotation=90, ha="center", va="center")
    bg.text(steps_xy[0], steps_xy[1], x_label, family=SERIF, fontsize=15, color=LABEL_COLOR,
            ha="center", va="center")


panel("sem_main", (226.4, 672.7, 69.7, 295.7), (0, 2762), (0.8393, 1.0112), 500, 0.86,
      (166.5, 228), (378, 318))
panel("sem_sub", (758, 1264.7, 69.7, 295.3), (0, 2262), (0.8391, 1.0056), 200, 0.86,
      (703.8, 225), (943, 318))
panel("health_main", (225.8, 672.7, 334.7, 575.3), (0, 2732), (0.8601, 1.0033), 500, 0.88,
      (162.7, 496), (377.6, 613), left_ext=-0.089)
panel("health_sub", (755, 1263.6, 334.7, 575.7), (0, 2276), (0.880, 1.0039), 200, 0.90,
      (703, 480), (942, 615))
panel("both_main", (214.7, 673.4, 636.3, 889.7), (0, 2665), (0.8791, 1.0055), 500, 0.90,
      (163, 808), (388.6, 918))
panel("both_sub", (733.9, 1228.6, 636.3, 877.3), (0, 2283), (0.8799, 1.0038), 200, 0.90,
      (705.3, 795), (954.4, 919))

fig.savefig("out.png", dpi=100)
